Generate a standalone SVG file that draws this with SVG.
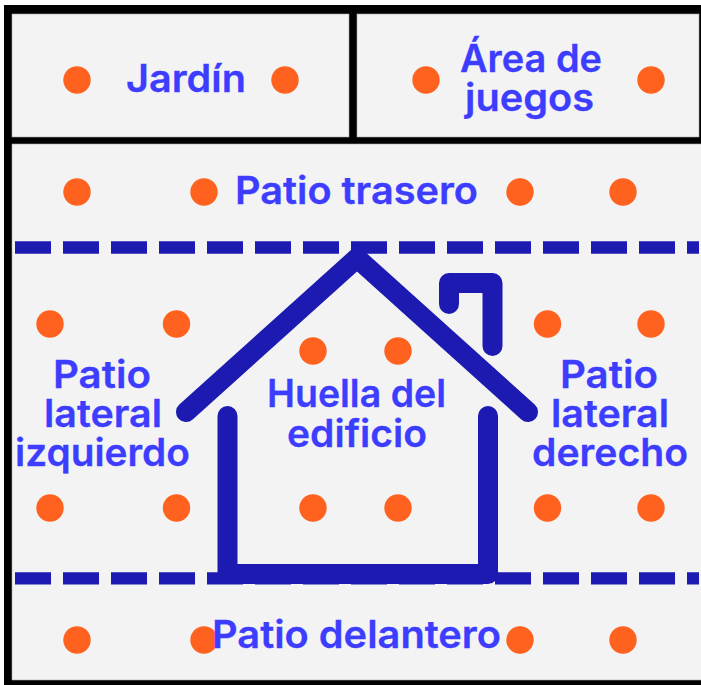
<svg xmlns="http://www.w3.org/2000/svg" width="701" height="685" viewBox="0 0 701 685">
<defs><style>
.panel{fill:#f3f3f3;stroke:#a8a8a8;stroke-width:.6}
.dot{fill:#ff621f}
.lbl{font-family:"Inter","Liberation Sans",sans-serif;font-size:38px;font-weight:600;fill:#3d3dff;stroke:#3d3dff;stroke-width:.3}
.dash{fill:none;stroke:#1d1ab2;stroke-width:12.3;stroke-dasharray:36 12}
.house{fill:none;stroke:#1d1ab2;stroke-width:20;stroke-linecap:round;stroke-linejoin:round}
.roof{stroke-linejoin:miter}
</style></defs>
<rect width="701" height="685" fill="#fff"/>
<rect x="4" y="5" width="697" height="680" fill="#000"/>
<g id="jardin">
<rect class="panel" x="12" y="14" width="337" height="123"/>
<circle class="dot" cx="77" cy="80" r="13.7"/><circle class="dot" cx="285" cy="80" r="13.7"/>
<text class="lbl" x="126" y="92" textLength="120" lengthAdjust="spacingAndGlyphs">Jardín</text>
</g>
<g id="area-juegos">
<rect class="panel" x="357" y="14" width="342" height="123"/>
<circle class="dot" cx="426" cy="80" r="13.7"/><circle class="dot" cx="651" cy="80" r="13.7"/>
<text class="lbl" x="460" y="72" textLength="142" lengthAdjust="spacingAndGlyphs">Área de</text>
<text class="lbl" x="465" y="111" textLength="129" lengthAdjust="spacingAndGlyphs">juegos</text>
</g>
<g id="terreno">
<rect class="panel" x="12" y="144" width="690" height="536"/>
</g>
<g id="connectors">
<path class="dash" d="M15 247.5H699"/>
<path class="dash" d="M15 578.3H699"/>
</g>
<g id="patio-trasero">
<circle class="dot" cx="77" cy="192" r="13.7"/><circle class="dot" cx="204" cy="192" r="13.7"/><circle class="dot" cx="520" cy="192" r="13.7"/><circle class="dot" cx="623" cy="192" r="13.7"/>
<text class="lbl" x="235" y="204" textLength="243" lengthAdjust="spacingAndGlyphs">Patio trasero</text>
</g>
<g id="patio-lateral-izquierdo">
<circle class="dot" cx="50" cy="324" r="13.7"/><circle class="dot" cx="176.500" cy="324" r="13.7"/><circle class="dot" cx="50" cy="508" r="13.7"/><circle class="dot" cx="176.500" cy="508" r="13.7"/>
<text class="lbl" x="53" y="388" textLength="98" lengthAdjust="spacingAndGlyphs">Patio</text>
<text class="lbl" x="44" y="427" textLength="118" lengthAdjust="spacingAndGlyphs">lateral</text>
<text class="lbl" x="15" y="466" textLength="175" lengthAdjust="spacingAndGlyphs">izquierdo</text>
</g>
<g id="casa">
<path class="house roof" d="M186 412L357 258L528 412"/>
<path class="house" d="M227.500 416V574H488V416"/>
<path class="house" d="M449 304V283H492.500V346"/>
</g>
<g id="huella">
<circle class="dot" cx="313" cy="351" r="13.7"/><circle class="dot" cx="398" cy="351" r="13.7"/><circle class="dot" cx="313" cy="508" r="13.7"/><circle class="dot" cx="398" cy="508" r="13.7"/>
<text class="lbl" x="267" y="407" textLength="179" lengthAdjust="spacingAndGlyphs">Huella del</text>
<text class="lbl" x="287" y="447" textLength="140" lengthAdjust="spacingAndGlyphs">edificio</text>
</g>
<g id="patio-lateral-derecho">
<circle class="dot" cx="547.500" cy="324" r="13.7"/><circle class="dot" cx="651" cy="324" r="13.7"/><circle class="dot" cx="547.500" cy="508" r="13.7"/><circle class="dot" cx="651" cy="508" r="13.7"/>
<text class="lbl" x="560" y="388" textLength="98" lengthAdjust="spacingAndGlyphs">Patio</text>
<text class="lbl" x="551" y="427" textLength="118" lengthAdjust="spacingAndGlyphs">lateral</text>
<text class="lbl" x="532" y="466" textLength="156" lengthAdjust="spacingAndGlyphs">derecho</text>
</g>
<g id="patio-delantero">
<circle class="dot" cx="77" cy="640" r="13.7"/><circle class="dot" cx="204" cy="640" r="13.7"/><circle class="dot" cx="520" cy="640" r="13.7"/><circle class="dot" cx="623" cy="640" r="13.7"/>
<text class="lbl" x="212" y="647.500" textLength="289" lengthAdjust="spacingAndGlyphs">Patio delantero</text>
</g>
</svg>
